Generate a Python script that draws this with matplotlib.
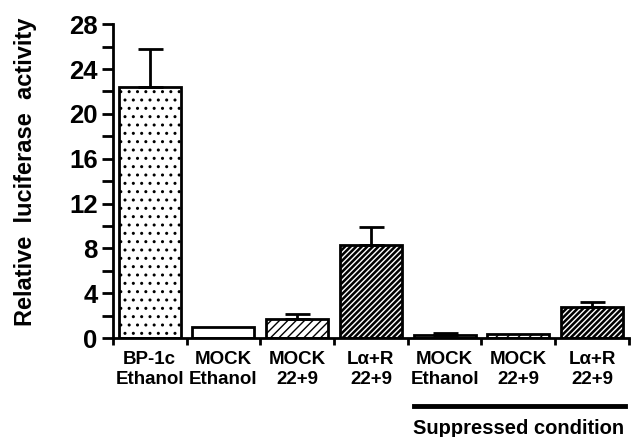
import matplotlib.pyplot as plt
import numpy as np

# --- DATOS ---
labels_top = ["BP-1c", "MOCK", "MOCK", "L\u03b1+R", "MOCK", "MOCK", "L\u03b1+R"]
labels_bottom = ["Ethanol", "Ethanol", "22+9", "22+9", "Ethanol", "22+9", "22+9"]
values = [22.4, 1.0, 1.7, 8.3, 0.3, 0.4, 2.8]
errors = [3.4, 0.0, 0.4, 1.6, 0.15, 0.0, 0.4]
faces = ["white", "white", "white", "black", "white", "white", "black"]
hatches = ["..", "", "////", "//////", "", "///", "//////"]
hatch_cols = ["black", "black", "black", "white", "black", "black", "white"]

plt.rcParams['font.family'] = ['Liberation Sans', 'DejaVu Sans']
plt.rcParams['font.weight'] = 'bold'
plt.rcParams['hatch.linewidth'] = 1.0

fig = plt.figure(figsize=(6.34, 4.37), dpi=100)
ax = fig.add_axes([0.178, 0.2265, 0.814, 0.718])

x = np.arange(len(values))
w = 0.84

# barras: primero el relleno con trama, luego el borde negro
ax.bar(x, values, width=w, color=faces, edgecolor=hatch_cols, hatch=hatches, linewidth=0)
ax.bar(x, values, width=w, fill=False, edgecolor="black", linewidth=2)

# barras de error solo hacia arriba
for xi, v, e in zip(x, values, errors):
    if e > 0:
        ax.errorbar(xi, v, yerr=[[0], [e]], color="black", capsize=9, capthick=2, elinewidth=2)

ax.set_xlim(-0.5, len(values) - 0.5)
ax.set_ylim(0, 28)
ax.set_yticks(np.arange(0, 29, 4))
ax.set_yticks(np.arange(2, 28, 4), minor=True)
ax.tick_params(axis='y', which='major', labelsize=18.5, width=2, length=8, pad=3)
ax.tick_params(axis='y', which='minor', width=2, length=8)

ax.set_xticks(np.arange(-0.5, len(values), 1))
ax.set_xticklabels([])
ax.tick_params(axis='x', width=2, length=5)

for s in ["top", "right"]:
    ax.spines[s].set_visible(False)
for s in ["left", "bottom"]:
    ax.spines[s].set_linewidth(2)

ax.set_ylabel("Relative  luciferase  activity", fontsize=17, fontweight='bold')
ax.yaxis.set_label_coords(-0.147, 0.53)

# etiquetas del eje x en dos lineas
for xi, t, b in zip(x, labels_top, labels_bottom):
    ax.text(xi, -1.2, t + "\n" + b, ha='center', va='top', fontsize=13.5,
            fontweight='bold', linespacing=1.2, clip_on=False)

# linea y texto de condicion suprimida
ax.plot([3.58, 6.45], [-6.1, -6.1], color="black", linewidth=3.5, clip_on=False)
ax.text(5.0, -7.2, "Suppressed condition", ha='center', va='top', fontsize=14.5,
        fontweight='bold', clip_on=False)

fig.savefig("out.png", dpi=100)
